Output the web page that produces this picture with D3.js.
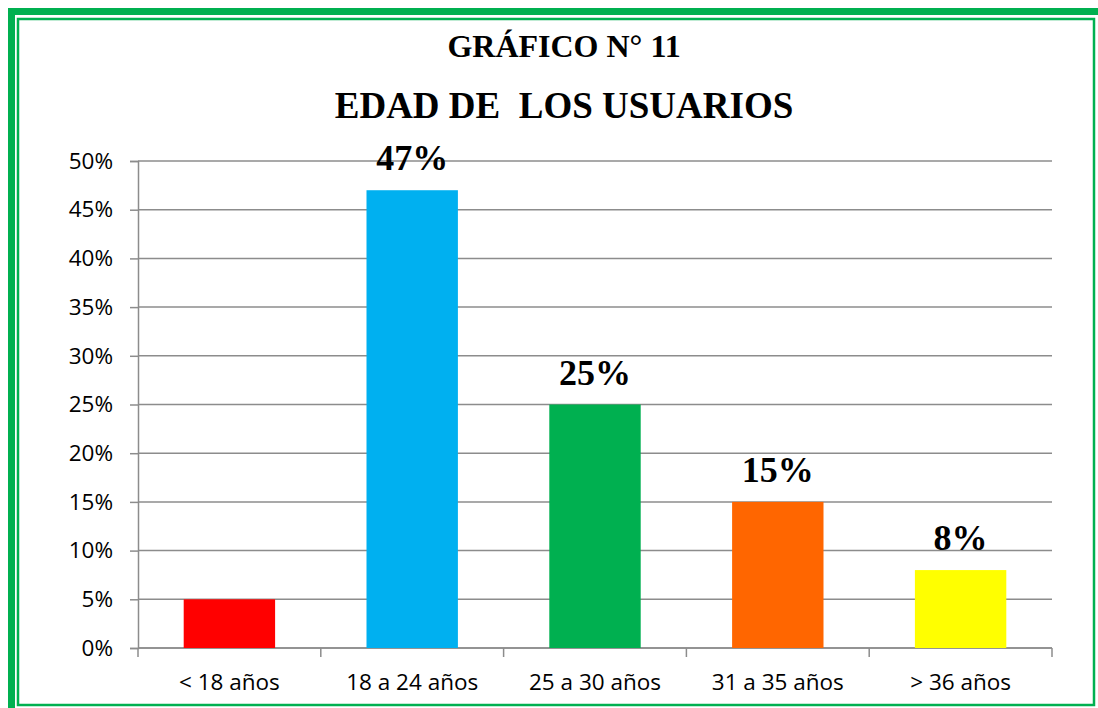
<!DOCTYPE html>
<html>
<head>
<meta charset="utf-8">
<script src="https://cdnjs.cloudflare.com/ajax/libs/d3/7.8.5/d3.min.js"></script>
<style>
  body { margin: 0; background: #fff; }
  svg { display: block; }
</style>
</head>
<body>
<div id="chart"></div>
<script>
const categories = ["< 18 años", "18 a 24 años", "25 a 30 años", "31 a 35 años", "> 36 años"];
const values = [5, 47, 25, 15, 8];
const valueLabels = ["", "47%", "25%", "15%", "8%"];
const barColors = ["#FF0000", "#00B0F0", "#00B050", "#FF6600", "#FFFF00"];
const yTicks = [0, 5, 10, 15, 20, 25, 30, 35, 40, 45, 50];

const width = 1098;
const height = 708;

const svg = d3.select("#chart")
  .append("svg")
  .attr("width", width)
  .attr("height", height);

// green frame, outer thick + inner thin
svg.append("rect")
  .attr("x", 11.5).attr("y", 11.5)
  .attr("width", 1094).attr("height", 704)
  .attr("fill", "none")
  .attr("stroke", "#00B050")
  .attr("stroke-width", 7);
svg.append("rect")
  .attr("x", 18).attr("y", 19)
  .attr("width", 1076).attr("height", 686)
  .attr("fill", "none")
  .attr("stroke", "#00B050")
  .attr("stroke-width", 2.5);

const plotLeft = 138, plotRight = 1052, plotTop = 161, plotBottom = 648;

const x = d3.scaleBand()
  .domain(categories)
  .range([plotLeft, plotRight])
  .paddingInner(0.5)
  .paddingOuter(0.25);

const y = d3.scaleLinear()
  .domain([0, 50])
  .range([plotBottom, plotTop]);

// gridlines
svg.append("g")
  .selectAll("line")
  .data(yTicks)
  .enter()
  .append("line")
  .attr("x1", plotLeft)
  .attr("x2", plotRight)
  .attr("y1", d => y(d))
  .attr("y2", d => y(d))
  .attr("stroke", "#8c8c8c")
  .attr("stroke-width", 1.5);

const yAxis = d3.axisLeft(y)
  .tickValues(yTicks)
  .tickSize(8)
  .tickPadding(17)
  .tickFormat(d => d + "%");

svg.append("g")
  .attr("transform", "translate(" + plotLeft + ",0)")
  .call(yAxis)
  .call(g => g.selectAll("line, path").attr("stroke", "#8c8c8c").attr("stroke-width", 1.5))
  .call(g => g.selectAll("text")
    .attr("fill", "#000")
    .style("font-family", "'Open Sans', sans-serif")
    .style("font-size", "22.5px"));

// category axis: ticks sit on band edges
const edges = categories.map(c => x(c) - x.step() * x.paddingInner() / 2);
edges.push(plotRight);

const xAxis = svg.append("g");
xAxis.append("line")
  .attr("x1", plotLeft).attr("x2", plotRight)
  .attr("y1", plotBottom).attr("y2", plotBottom)
  .attr("stroke", "#8c8c8c")
  .attr("stroke-width", 1.5);
xAxis.selectAll(".edge")
  .data(edges)
  .enter()
  .append("line")
  .attr("class", "edge")
  .attr("x1", d => d).attr("x2", d => d)
  .attr("y1", plotBottom).attr("y2", plotBottom + 9)
  .attr("stroke", "#8c8c8c")
  .attr("stroke-width", 1.5);
xAxis.selectAll("text")
  .data(categories)
  .enter()
  .append("text")
  .attr("x", d => x(d) + x.bandwidth() / 2)
  .attr("y", 690)
  .attr("text-anchor", "middle")
  .style("font-family", "'Open Sans', sans-serif")
  .style("font-size", "22.5px")
  .text(d => d);

// bars
svg.selectAll(".bar")
  .data(values)
  .enter()
  .append("rect")
  .attr("class", "bar")
  .attr("x", (d, i) => x(categories[i]))
  .attr("y", d => y(d))
  .attr("width", x.bandwidth())
  .attr("height", d => plotBottom - y(d))
  .attr("fill", (d, i) => barColors[i]);

// value labels
svg.selectAll(".lbl")
  .data(values)
  .enter()
  .append("text")
  .attr("class", "lbl")
  .attr("x", (d, i) => x(categories[i]) + x.bandwidth() / 2)
  .attr("y", d => y(d) - 20)
  .attr("text-anchor", "middle")
  .style("font-family", "'Liberation Serif', 'Times New Roman', serif")
  .style("font-weight", "bold")
  .style("font-size", "36px")
  .text((d, i) => valueLabels[i]);

// titles
svg.append("text")
  .attr("x", 564)
  .attr("y", 57)
  .attr("text-anchor", "middle")
  .style("font-family", "'Liberation Serif', 'Times New Roman', serif")
  .style("font-weight", "bold")
  .style("font-size", "32px")
  .text("GRÁFICO N° 11");

svg.append("text")
  .attr("x", 564)
  .attr("y", 118)
  .attr("text-anchor", "middle")
  .style("font-family", "'Liberation Serif', 'Times New Roman', serif")
  .style("font-weight", "bold")
  .style("font-size", "37px")
  .style("white-space", "pre")
  .text("EDAD DE  LOS USUARIOS");
</script>
</body>
</html>
